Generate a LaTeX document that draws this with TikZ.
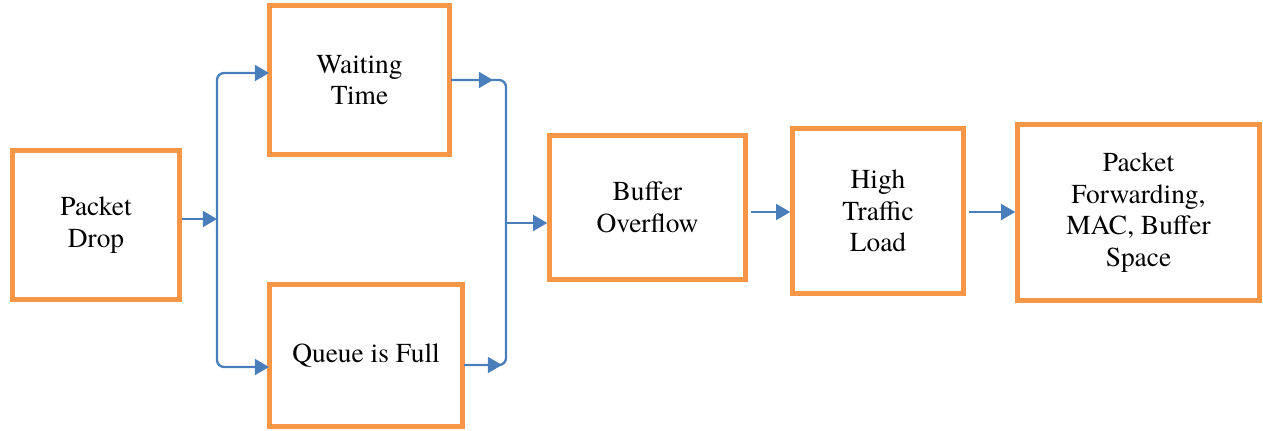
\documentclass[tikz,border=0pt]{standalone}
\usepackage{fontspec}
\setmainfont{texgyretermes-regular.otf}
\usetikzlibrary{arrows.meta}
\definecolor{boxorange}{HTML}{F79646}
\definecolor{linkblue}{HTML}{4A7EBB}
\tikzset{
    stage/.style={draw=boxorange, line width=2.6pt, fill=white, align=center, inner sep=0pt,
        font=\rmfamily\fontsize{15.6}{18}\selectfont},
    flow/.style={draw=linkblue, line width=1.3pt, rounded corners=4pt},
    link/.style={flow, -{Triangle[length=8pt,width=9pt]}}
}
\begin{document}
\begin{tikzpicture}[x=0.02cm,y=-0.02cm]
            \useasboundingbox (0,0) rectangle (1263,430);
            % boxes
            \node[stage, minimum width=3.34cm, minimum height=2.98cm] (drop) at (96,225) {Packet\\Drop};
            \node[stage, minimum width=3.6cm, minimum height=2.98cm] (wait) at (359.5,80) {Waiting\\Time};
            \node[stage, minimum width=3.86cm, minimum height=2.84cm] (queue) at (366,355.5) {Queue is Full};
            \node[stage, minimum width=3.92cm, minimum height=2.88cm] (buffer) at (647.5,207.5) {Buffer\\Overflow};
            \node[stage, minimum width=3.42cm, minimum height=3.3cm] (high) at (878,211) {High\\Traffic\\Load};
            \node[stage, minimum width=4.84cm, minimum height=3.52cm] (fwd) at (1138.5,212.5) {Packet\\Forwarding,\\MAC, Buffer\\Space};
            % fork and merge points
            \coordinate (fork) at (217,219);
            \coordinate (merge) at (506,223);
            \coordinate (waitin) at (269,73);
            \coordinate (queuein) at (269,367);
            \coordinate (waitout) at (451,80);
            \coordinate (queueout) at (464,365);
            \draw[link] (drop.east |- fork) -- (fork);
            \draw[link] (fork) |- (waitin);
            \draw[link] (fork) |- (queuein);
            \draw[flow] (waitout) -| (merge);
            \draw[flow] (queueout) -| (merge);
            \draw[link] (waitout) -- ++(42,0);
            \draw[link] (queueout) -- ++(38,0);
            \draw[link] (merge) -- (buffer.west |- merge);
            \draw[link, shorten <=2pt] (buffer.east |- 0,212) -- (high.west |- 0,212);
            \draw[link, shorten <=2pt] (high.east |- 0,212) -- (fwd.west |- 0,212);
        \end{tikzpicture}
\end{document}
